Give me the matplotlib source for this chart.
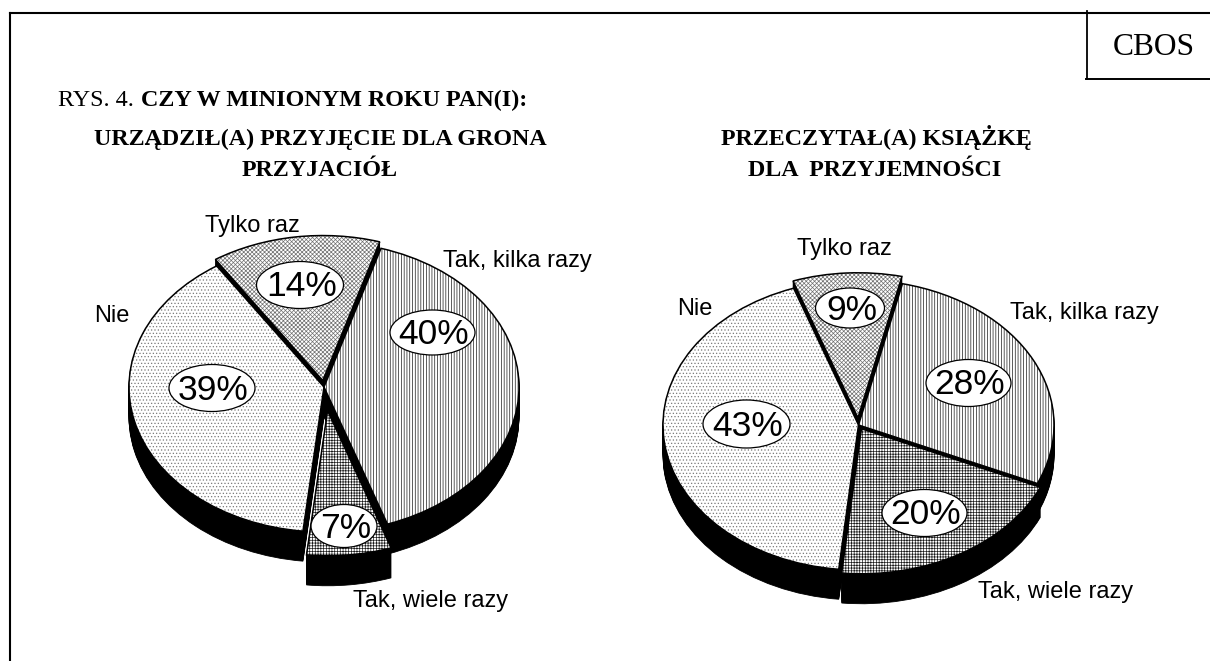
import matplotlib
matplotlib.use("Agg")
import matplotlib.pyplot as plt
import numpy as np
from matplotlib.lines import Line2D
from matplotlib.patches import Ellipse
from matplotlib.transforms import Affine2D

W, H = 1210, 661
DPI = 100

categories_left = ["Tak, kilka razy", "Tak, wiele razy", "Nie", "Tylko raz"]
values_left = [40, 7, 39, 14]
categories_right = ["Tak, kilka razy", "Tak, wiele razy", "Nie", "Tylko raz"]
values_right = [28, 20, 43, 9]

plt.rcParams["hatch.linewidth"] = 0.5
fig = plt.figure(figsize=(W / DPI, H / DPI), dpi=DPI, facecolor="white")
px = Affine2D().scale(1, -1).translate(0, H)
SANS = "Liberation Sans"
SERIF = "Liberation Serif"
HATCHES = ["|" * 6, "+" * 6, "." * 5, "x" * 8]
HATCH_GREYS = ["#1a1a1a", "#1a1a1a", "#7a7a7a", "#707070"]


def draw_pie(values, cx, cy, rx, ry, depth, start, explode):
    ax = fig.add_axes([(cx - 1.25 * rx) / W, 1 - (cy + 1.6 * ry) / H,
                       2.5 * rx / W, 3.0 * ry / H])
    for d in np.arange(depth, 0, -1.0):
        ax.pie(values, startangle=start, counterclock=False, explode=explode,
               center=(0, -d / ry), colors=["black"] * len(values),
               wedgeprops=dict(edgecolor="black", linewidth=0.6))
    wedges, _ = ax.pie(values, startangle=start, counterclock=False, explode=explode,
                       colors=["white"] * len(values), hatch=HATCHES,
                       wedgeprops=dict(linewidth=0))
    for w, g in zip(wedges, HATCH_GREYS):
        w.set_edgecolor(g)
    ax.pie(values, startangle=start, counterclock=False, explode=explode,
           colors=["none"] * len(values),
           wedgeprops=dict(edgecolor="black", linewidth=1.1))
    ax.set_aspect("auto")
    ax.set_xlim(-1.25, 1.25)
    ax.set_ylim(-1.6, 1.4)
    ax.set_axis_off()
    return ax


draw_pie(values_left, 324, 387, 195, 145, 30, 73, [0, 0.165, 0, 0.045])
draw_pie(values_right, 858.5, 425, 195.5, 145, 30, 77, [0, 0.03, 0, 0.05])


def pct_label(value, x, y, w, h):
    fig.add_artist(Ellipse((x, y), w, h, transform=px, facecolor="white",
                           edgecolor="black", linewidth=0.9, zorder=5))
    fig.text(x + 1.5, y - 1.5, f"{value}%", transform=px, ha="center", va="center_baseline",
             fontfamily=SANS, fontsize=25.5, color="black", zorder=6)


left_pos = [(432.5, 332.5, 85, 45), (344, 526, 66, 43), (212, 388, 86, 47), (300, 285, 87, 47)]
right_pos = [(968.5, 383, 85, 47), (924.5, 513, 85, 47), (746.5, 424, 87, 48), (850, 308, 69, 40)]
for v, p in zip(values_left, left_pos):
    pct_label(v, *p)
for v, p in zip(values_right, right_pos):
    pct_label(v, *p)


def cat_label(s, x, y):
    fig.text(x, y, s, transform=px, ha="left", va="baseline", fontfamily=SANS,
             fontsize=17.0, color="black", zorder=6)


for s, (x, y) in zip(categories_left, [(443, 267), (353, 607), (94, 322), (205, 232)]):
    cat_label(s, x, y)
for s, (x, y) in zip(categories_right, [(1010, 319), (978, 598), (677, 315), (797, 255)]):
    cat_label(s, x, y)

# frame
fig.add_artist(Line2D([10, 1210], [13, 13], transform=px, color="black", lw=1.5))
fig.add_artist(Line2D([10, 10], [13, 661], transform=px, color="black", lw=1.5))
fig.add_artist(Line2D([1087, 1087], [11, 79], transform=px, color="black", lw=1.3))
fig.add_artist(Line2D([1086, 1210], [79, 79], transform=px, color="black", lw=1.4))

fig.text(1113, 55, "CBOS", transform=px, fontfamily=SERIF, fontsize=22.7, ha="left", va="baseline")
fig.text(58, 106, "RYS. 4.", transform=px, fontfamily=SERIF, fontsize=17.4, ha="left", va="baseline")
fig.text(527, 106, "CZY W MINIONYM ROKU PAN(I):", transform=px, fontfamily=SERIF, fontsize=17.4,
         fontweight="bold", ha="right", va="baseline")
for s, x, y in [("URZĄDZIŁ(A) PRZYJĘCIE DLA GRONA", 320, 145.5),
                ("PRZYJACIÓŁ", 320, 176),
                ("PRZECZYTAŁ(A) KSIĄŻKĘ", 876, 145.5),
                ("DLA  PRZYJEMNOŚCI", 874.5, 176)]:
    fig.text(x, y, s, transform=px, fontfamily=SERIF, fontsize=17.3, fontweight="bold",
             ha="center", va="baseline")

fig.savefig("out.png", dpi=DPI)
